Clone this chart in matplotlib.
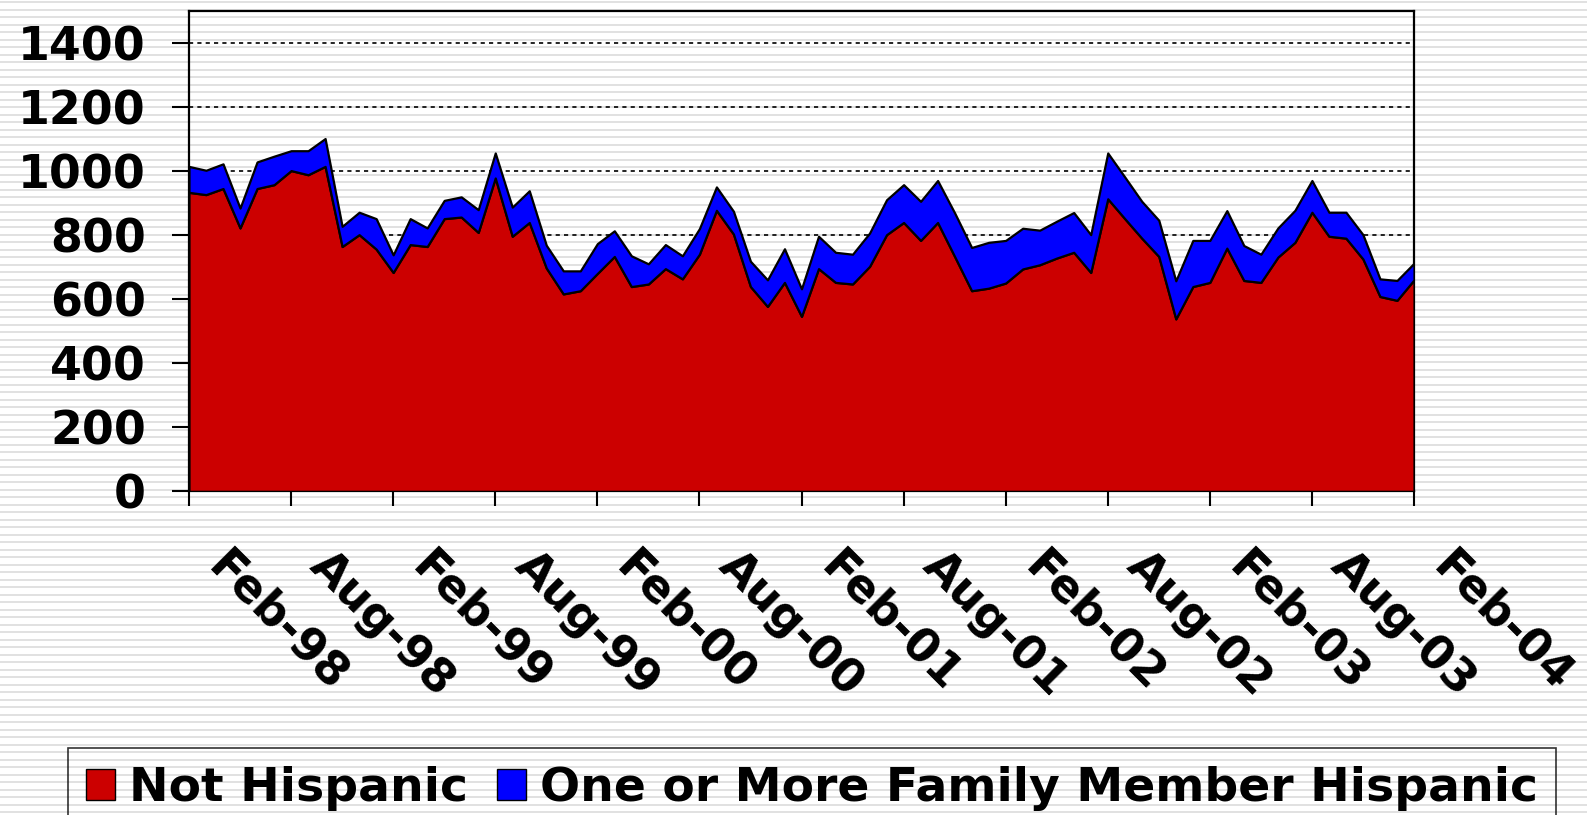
import numpy as np
import matplotlib
matplotlib.use("Agg")
import matplotlib.pyplot as plt
from matplotlib.patches import Patch
from matplotlib.transforms import ScaledTranslation

# monthly counts, Feb-98 .. Feb-04
not_hispanic = [933, 926, 945, 822, 945, 957, 1001, 988, 1014, 764, 801, 756,
                683, 770, 764, 851, 856, 808, 978, 796, 839, 697, 616, 626,
                680, 733, 639, 647, 695, 663, 740, 877, 803, 639, 577, 652,
                546, 695, 652, 647, 702, 801, 839, 783, 839, 733, 626, 634,
                650, 694, 707, 728, 746, 683, 913, 851, 790, 733, 538, 639,
                652, 759, 658, 652, 731, 777, 871, 796, 790, 725, 608, 596,
                660]
family_hispanic = [81, 76, 77, 62, 83, 89, 62, 75, 87, 63, 70, 95,
                   55, 81, 58, 57, 63, 71, 78, 91, 99, 71, 72, 62,
                   93, 80, 96, 63, 75, 72, 80, 73, 71, 79, 83, 105,
                   86, 101, 94, 93, 104, 109, 118, 122, 131, 136, 135, 143,
                   133, 127, 108, 115, 124, 118, 143, 130, 115, 113, 119, 144,
                   131, 117, 109, 88, 91, 100, 99, 75, 81, 76, 55, 62,
                   52]
tick_labels = ["Feb-98", "Aug-98", "Feb-99", "Aug-99", "Feb-00", "Aug-00",
               "Feb-01", "Aug-01", "Feb-02", "Aug-02", "Feb-03", "Aug-03",
               "Feb-04"]
series_names = ["Not Hispanic", "One or More Family Member Hispanic"]
colors = ["#CC0000", "#0000FF"]

months = np.arange(len(not_hispanic))

W, H = 1587, 815
fig = plt.figure(figsize=(W / 100, H / 100), dpi=100, facecolor="white")

# striped background
bg = fig.add_axes([0, 0, 1, 1], zorder=-10)
bg.set_xlim(0, W)
bg.set_ylim(H, 0)
bg.hlines(np.arange(2, H, 7.5), 0, W, color="#dcdcdc", lw=1.2)
bg.axis("off")

ax = fig.add_axes([189 / W, 1 - 491.3 / H, (1414 - 189) / W, (491.3 - 10.7) / H])
ax.patch.set_alpha(0)

ax.stackplot(months, not_hispanic, family_hispanic, colors=colors,
             edgecolor="black", linewidth=1.6, zorder=3)

ax.set_xlim(0, months[-1])
ax.set_ylim(0, 1500)
ax.set_yticks(np.arange(0, 1401, 200))
ax.set_xticks(months[::6])
ax.set_xticklabels(tick_labels)

ax.yaxis.grid(True, color="black", linestyle=(0, (2.5, 2.5)), linewidth=1.2)
ax.set_axisbelow(True)

for s in ax.spines.values():
    s.set_linewidth(1.6)
    s.set_color("black")

fnt = dict(family="DejaVu Sans", weight="bold", size=33)
ax.tick_params(axis="y", direction="out", length=12, width=1.5, pad=19)
ax.tick_params(axis="x", direction="out", length=11, width=1.5, pad=0)
for lab in ax.get_yticklabels():
    lab.set_fontproperties(matplotlib.font_manager.FontProperties(**fnt))
offset = ScaledTranslation(0.42, -0.37, fig.dpi_scale_trans)
for lab in ax.get_xticklabels():
    lab.set_fontproperties(matplotlib.font_manager.FontProperties(**fnt))
    lab.set_rotation(-45)
    lab.set_rotation_mode("anchor")
    lab.set_ha("left")
    lab.set_va("top")
    lab.set_transform(lab.get_transform() + offset)

handles = [Patch(facecolor=c, edgecolor="black", linewidth=1) for c in colors]
leg = fig.legend(handles, series_names, loc="upper left",
                 bbox_to_anchor=(68 / W, 1 - 748 / H), ncol=2,
                 borderaxespad=0, fancybox=False, frameon=True,
                 edgecolor="black", facecolor="none", framealpha=None,
                 prop=matplotlib.font_manager.FontProperties(
                     family="DejaVu Sans", weight="bold", size=34),
                 handlelength=0.62, handleheight=0.62, handletextpad=0.3,
                 columnspacing=0.6, borderpad=0.38)
leg.get_frame().set_linewidth(1.2)

fig.savefig("out.png", dpi=100, facecolor="white")
